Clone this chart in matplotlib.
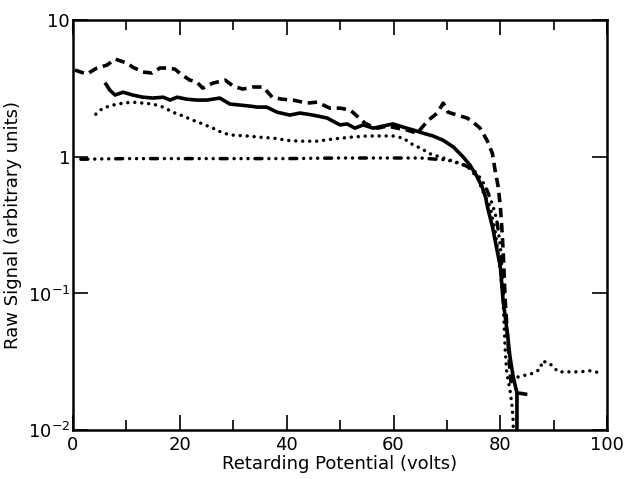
import matplotlib
matplotlib.use("Agg")
import matplotlib.pyplot as plt
import numpy as np

# Dashed curve (top)
dash_x = [0.4, 2.6, 4.5, 6.4, 7.9, 10.1, 11.2, 13.1, 14.8, 16.3, 17.6, 19.1, 20.4, 21.9,
          23.2, 24.3, 26.2, 28.5, 30.0, 31.8, 33.7, 35.6, 37.3, 39.1, 41.2, 43.8, 45.7,
          48.1, 50.0, 51.9, 53.4, 54.7, 56.2, 57.1, 58.8, 60.7, 62.5, 64.4, 65.4, 66.5,
          68.2, 69.3, 70.2, 71.9, 73.8, 74.9, 76.2, 77.5, 78.5, 79.0, 79.6, 80.0, 80.3,
          80.5, 80.9, 81.3, 81.8, 82.0]
dash_y = [4.31, 4.03, 4.46, 4.69, 5.19, 4.85, 4.53, 4.17, 4.10, 4.46, 4.46, 4.38, 3.97, 3.64,
          3.52, 3.18, 3.46, 3.64, 3.29, 3.13, 3.24, 3.24, 2.73, 2.64, 2.60, 2.47, 2.51,
          2.27, 2.27, 2.20, 1.95, 1.76, 1.65, 1.62, 1.68, 1.62, 1.57, 1.49, 1.65, 1.85,
          2.09, 2.47, 2.12, 2.02, 1.92, 1.79, 1.62, 1.32, 1.06, 0.80, 0.60, 0.43, 0.29,
          0.21, 0.09, 0.051, 0.027, 0.022]

# short dashed piece near the bottom
frag_x = [83.3, 86.1]
frag_y = [0.0187, 0.0180]

# Solid curve
solid_x = [6.2, 6.9, 7.9, 9.4, 11.2, 13.1, 15.0, 16.9, 18.2, 19.5, 21.3, 23.2, 25.1, 27.5,
           29.4, 31.3, 33.1, 34.5, 36.3, 38.2, 40.6, 42.5, 44.9, 47.6, 50.0, 51.3, 52.8,
           54.3, 56.2, 58.1, 59.9, 61.8, 63.7, 65.5, 67.4, 69.3, 71.2, 73.0, 74.3, 75.7,
           76.6, 77.2, 77.7, 78.5, 79.0, 80.0, 80.5, 81.3, 81.8, 82.4, 83.1, 83.1]
solid_y = [3.40, 3.08, 2.83, 2.97, 2.83, 2.73, 2.69, 2.73, 2.60, 2.73, 2.64, 2.60, 2.60, 2.69,
           2.43, 2.39, 2.35, 2.31, 2.31, 2.12, 2.02, 2.09, 2.02, 1.92, 1.71, 1.74, 1.62,
           1.71, 1.62, 1.68, 1.74, 1.65, 1.57, 1.49, 1.42, 1.32, 1.18, 1.00, 0.87, 0.71,
           0.60, 0.51, 0.41, 0.31, 0.246, 0.156, 0.0895, 0.0513, 0.0343, 0.0245, 0.0187, 0.005]

# Dotted curve
dot_x = [4.3, 5.6, 7.5, 9.4, 11.2, 13.1, 15.0, 16.9, 18.7, 20.6, 22.5, 24.3, 26.2, 28.1,
         30.0, 32.6, 35.0, 37.5, 40.1, 42.5, 45.7, 48.7, 51.9, 55.1, 58.1, 59.9, 61.8,
         63.7, 65.0, 66.9, 69.3, 71.9, 73.8, 75.7, 76.8, 78.1, 79.0, 80.0, 80.5, 80.9,
         81.2, 81.8, 82.2, 82.4, 82.4]
dot_y = [2.05, 2.27, 2.39, 2.47, 2.51, 2.47, 2.43, 2.31, 2.12, 1.99, 1.85, 1.74, 1.62, 1.49,
         1.44, 1.42, 1.39, 1.37, 1.32, 1.30, 1.30, 1.35, 1.39, 1.42, 1.42, 1.42, 1.37,
         1.22, 1.16, 1.05, 0.98, 0.91, 0.86, 0.70, 0.55, 0.43, 0.29, 0.148, 0.0895, 0.0386,
         0.0262, 0.0196, 0.0148, 0.0115, 0.005]

# Dotted tail beyond cutoff
tail_x = [83.3, 86.0, 87.5, 87.8, 89.1, 89.9, 90.8, 93.1, 94.9, 96.8, 99.1]
tail_y = [0.0245, 0.026, 0.028, 0.032, 0.031, 0.029, 0.0267, 0.0267, 0.0267, 0.0272, 0.026]

# Dash-dot curve (flat near 1)
dd_x = [1.5, 10, 20, 30, 40, 50, 60, 65, 68, 70, 72, 73.5, 75, 76.5, 77.5, 78.5, 79.3, 80.0, 80.6]
dd_y = [0.96, 0.97, 0.97, 0.97, 0.97, 0.98, 0.98, 0.98, 0.96, 0.95, 0.90, 0.86, 0.80, 0.68,
        0.57, 0.45, 0.35, 0.22, 0.10]

fig = plt.figure(figsize=(6.28, 4.79), dpi=100)
ax = fig.add_axes([0.116, 0.102, 0.851, 0.856])

dashed = (0, (2.6, 1.6))
dotted = (0, (0.01, 2.0))
dashdot = (0, (2.0, 2.0, 0.01, 2.0, 0.01, 2.0, 0.01, 2.0))

ax.plot(dash_x, dash_y, color='black', lw=2.6, linestyle=dashed)
ax.plot(frag_x, frag_y, color='black', lw=2.6, linestyle=dashed)
ax.plot(solid_x, solid_y, color='black', lw=2.6)
ax.plot(dot_x, dot_y, color='black', lw=2.5, linestyle=dotted, dash_capstyle='round')
ax.plot(tail_x, tail_y, color='black', lw=2.5, linestyle=dotted, dash_capstyle='round')
ax.plot(dd_x, dd_y, color='black', lw=2.5, linestyle=dashdot, dash_capstyle='round')

ax.set_yscale('log')
ax.set_xlim(0, 100)
ax.set_ylim(1e-2, 10)

ax.set_xticks([0, 20, 40, 60, 80, 100])
ax.set_xticks([10, 30, 50, 70, 90], minor=True)
ax.set_yticks([1e-2, 1e-1, 1, 10])
ax.set_yticklabels(['$10^{-2}$', '$10^{-1}$', '1', '10'])
ax.yaxis.set_minor_locator(matplotlib.ticker.NullLocator())

ax.tick_params(axis='both', which='both', direction='in', top=True, right=True,
               labelsize=13, width=1.2)
ax.tick_params(axis='x', which='major', length=11, pad=4)
ax.tick_params(axis='x', which='minor', length=7)
ax.tick_params(axis='y', which='major', length=11, pad=2)

for s in ax.spines.values():
    s.set_linewidth(1.8)

ax.set_xlabel("Retarding Potential (volts)", fontsize=13, labelpad=1)
ax.set_ylabel("Raw Signal (arbitrary units)", fontsize=13, labelpad=4)

fig.savefig("out.png", dpi=100)
